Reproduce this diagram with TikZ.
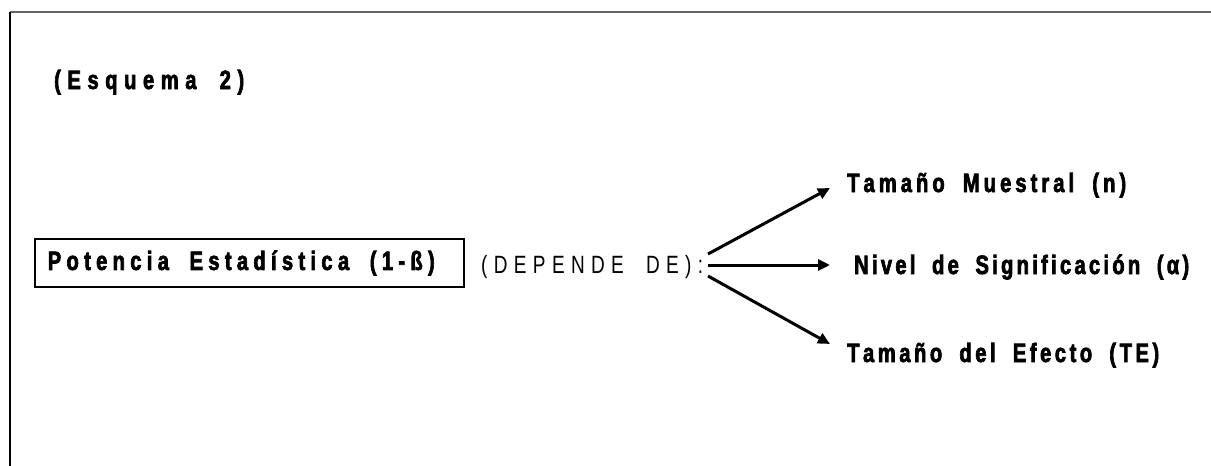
\documentclass[tikz,border=0pt]{standalone}
\usepackage{fontspec}
\setmainfont{Liberation Sans}
\newfontfamily\heavyfont[FakeStretch=0.76,FakeBold=2.5]{Liberation Sans Bold}
\newfontfamily\thinfont[FakeStretch=0.76]{Liberation Sans}
\usetikzlibrary{arrows.meta}

% \spreadto{width}{text}: letter-spaced text set to an exact width
\ExplSyntaxOn
\NewDocumentCommand\spreadto{mm}
  {
    \makebox[#1][s]
      {
        \str_map_inline:nn {#2}
          {
            \str_if_eq:nnTF {##1} {~}
              { \hskip 0.38em plus 1fil \relax }
              { ##1 \hskip 0pt plus 1fil \relax }
          }
        \unskip
      }
  }
\ExplSyntaxOff

\tikzset{
  x=1pt, y=-1pt,
  heavy/.style={font=\heavyfont\fontsize{26.5}{30}\selectfont},
  lbl/.style={heavy, anchor=base west, inner sep=0pt},
  arr/.style={line width=3pt, -{Triangle[length=12pt,width=11pt]}},
  frame/.style={line width=1.5pt}
}
\begin{document}
\begin{tikzpicture}
  \useasboundingbox (0,0) rectangle (1211,466);
  % page frame: grey top rule, black left rule
  \draw[frame, draw=black!60] (10,12) -- (1211,12);
  \draw[frame, draw=black] (10,12) -- (10,466);

  % title
  \node[lbl] (ttl) at (54,89) {\spreadto{190pt}{(Esquema 2)}};

  % boxed concept
  \node[heavy, draw, line width=1.5pt, anchor=west, minimum height=48pt, inner xsep=13pt] (pot) at (34,263)
        {\makebox[403pt][l]{\spreadto{387pt}{Potencia Estadística (1-ß)}}};

  \node[anchor=base west, inner sep=0pt, font=\thinfont\fontsize{25}{28}\selectfont] (dep) at (481,273)
        {\spreadto{222pt}{(DEPENDE DE):}};

  % factors
  \node[lbl] (n1) at (847,192) {\spreadto{279pt}{Tamaño Muestral (n)}};
  \node[lbl] (n2) at (854,274) {\spreadto{335pt}{Nivel de Significación (α)}};
  \node[lbl] (n3) at (847,362) {\spreadto{312pt}{Tamaño del Efecto (TE)}};

  % fork points and arrow tips
  \coordinate (s1) at (708,254);
  \coordinate (s2) at (708,265);
  \coordinate (s3) at (708,276);
  \coordinate (e1) at (830,188);
  \coordinate (e2) at (830,265);
  \coordinate (e3) at (830,344);

  \draw[arr] (s1) -- (e1);
  \draw[arr] (s2) -- (e2);
  \draw[arr] (s3) -- (e3);
\end{tikzpicture}
\end{document}
